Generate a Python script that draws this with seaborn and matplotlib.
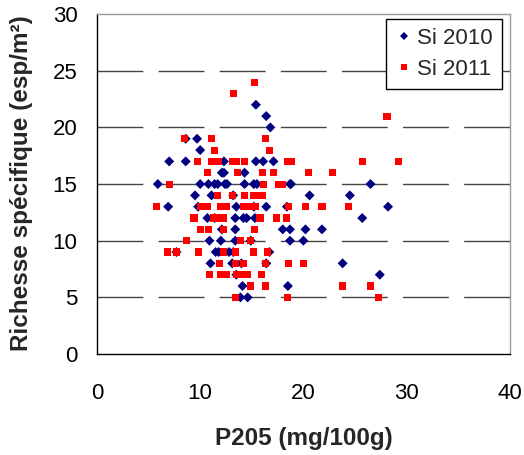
import numpy as np
import pandas as pd
import matplotlib
matplotlib.use('Agg')
import matplotlib.pyplot as plt
import seaborn as sns

# ── Data ─────────────────────────────────────────────────────
p205_2010 = [15.4, 16.4, 16.8, 8.6, 9.7, 10.0,
             7.0, 8.6, 12.3, 15.4, 16.1, 17.1,
             12.1, 12.3, 14.3,
             5.9, 10.0, 10.8, 11.4, 11.7, 12.4, 12.6, 14.3, 15.2, 15.5, 18.7, 18.8, 26.5,
             9.5, 11.1, 13.2, 20.6, 24.5,
             6.9, 9.8, 13.5, 15.2, 16.4, 18.4, 28.2,
             10.7, 11.4, 13.4, 14.2, 14.5, 15.3, 25.7,
             12.1, 13.4, 18.0, 18.7, 20.2, 21.8,
             10.9, 12.0, 13.4, 14.9, 18.7, 20.0,
             7.7, 11.5, 11.8, 12.8, 13.2, 16.7,
             11.0, 13.1, 14.0, 16.4, 23.8,
             13.5, 27.4,
             14.1, 18.5,
             13.9, 14.6]
rich_2010 = [22, 21, 20, 19, 19, 18,
             17, 17, 17, 17, 17, 17,
             16, 16, 16,
             15, 15, 15, 15, 15, 15, 15, 15, 15, 15, 15, 15, 15,
             14, 14, 14, 14, 14,
             13, 13, 13, 13, 13, 13, 13,
             12, 12, 12, 12, 12, 12, 12,
             11, 11, 11, 11, 11, 11,
             10, 10, 10, 10, 10, 10,
             9, 9, 9, 9, 9, 9,
             8, 8, 8, 8, 8,
             7, 7,
             6, 6,
             5, 5]

p205_2011 = [15.3, 13.2, 28.1,
             8.5, 11.1, 16.3,
             11.4, 16.7,
             9.7, 11.1, 11.5, 11.8, 13.1, 13.5, 14.3, 18.5, 18.8, 25.7, 29.2,
             10.7, 13.6, 16.0, 17.1, 20.5, 22.8,
             7.0, 16.1, 17.6, 18.0,
             11.7, 13.1, 14.3, 15.2, 15.7, 16.0,
             5.8, 10.0, 10.7, 12.0, 12.5, 14.2, 14.5, 15.0, 15.4, 18.6, 20.2, 21.8, 24.4,
             9.4, 11.3, 11.6, 12.3, 15.8, 17.4, 18.4,
             10.0, 10.8, 12.3, 15.3,
             8.7, 13.9, 14.9,
             6.8, 7.7, 9.8, 12.3, 13.4, 15.2, 16.5,
             11.9, 13.4, 14.2, 16.3, 18.6, 20.0,
             10.9, 12.0, 12.5, 13.5, 13.9, 14.6, 15.9,
             14.9, 16.3, 23.8, 26.5,
             13.4, 18.5, 27.3]
rich_2011 = [24, 23, 21,
             19, 19, 19,
             18, 18,
             17, 17, 17, 17, 17, 17, 17, 17, 17, 17, 17,
             16, 16, 16, 16, 16, 16,
             15, 15, 15, 15,
             14, 14, 14, 14, 14, 14,
             13, 13, 13, 13, 13, 13, 13, 13, 13, 13, 13, 13, 13,
             12, 12, 12, 12, 12, 12, 12,
             11, 11, 11, 11,
             10, 10, 10,
             9, 9, 9, 9, 9, 9, 9,
             8, 8, 8, 8, 8, 8,
             7, 7, 7, 7, 7, 7, 7,
             6, 6, 6, 6,
             5, 5, 5]

series_names = ['Si 2010', 'Si 2011']
x_ticks = [0, 10, 20, 30, 40]
y_ticks = [0, 5, 10, 15, 20, 25, 30]

df = pd.concat([
    pd.DataFrame({'P205': p205_2010, 'Richesse': rich_2010, 'Serie': series_names[0]}),
    pd.DataFrame({'P205': p205_2011, 'Richesse': rich_2011, 'Serie': series_names[1]}),
], ignore_index=True)

# ── Plot ─────────────────────────────────────────────────────
sns.set_style('white')
plt.rcParams['font.family'] = ['Liberation Sans', 'DejaVu Sans']

fig = plt.figure(figsize=(5.24, 4.55), dpi=100)
ax = fig.add_axes([0.185, 0.222, 0.788, 0.747])

# dashed horizontal gridlines (drawn first, under the points)
for yv in y_ticks[1:-1]:
    ax.axhline(yv, color='#444444', lw=1.0, dashes=(33, 11), zorder=0)

sns.scatterplot(data=df, x='P205', y='Richesse', hue='Serie', style='Serie',
                palette={'Si 2010': '#000080', 'Si 2011': '#FF0000'},
                markers={'Si 2010': 'D', 'Si 2011': 's'},
                s=26, linewidth=0, ax=ax, zorder=3)

ax.set_xlim(0, 40)
ax.set_ylim(0, 30)
ax.set_xticks(x_ticks)
ax.set_yticks(y_ticks)
ax.tick_params(axis='both', direction='out', length=6, width=1, colors='black',
               labelsize=16)
ax.tick_params(axis='x', pad=15)
ax.tick_params(axis='y', pad=8)

for side in ['left', 'bottom']:
    ax.spines[side].set_color('black')
    ax.spines[side].set_linewidth(1.0)
for side in ['top', 'right']:
    ax.spines[side].set_color('#9a9a9a')
    ax.spines[side].set_linewidth(1.0)

ax.set_xlabel('P205 (mg/100g)', fontsize=17.5, fontweight='bold')
ax.set_ylabel('Richesse spécifique (esp/m²)', fontsize=17.5, fontweight='bold')
ax.xaxis.set_label_coords(0.5, -0.215)
ax.yaxis.set_label_coords(-0.155, 0.503)

leg = ax.legend(loc='upper right', bbox_to_anchor=(0.98, 0.985), fontsize=16,
                frameon=True, fancybox=False, handletextpad=0.2,
                handlelength=0.8, borderpad=0.4, labelspacing=0.45,
                borderaxespad=0, markerscale=0.8)
leg.get_frame().set_edgecolor('black')
leg.get_frame().set_linewidth(1.0)
leg.get_frame().set_alpha(1)

fig.savefig('out.png', dpi=100)
plt.close(fig)
